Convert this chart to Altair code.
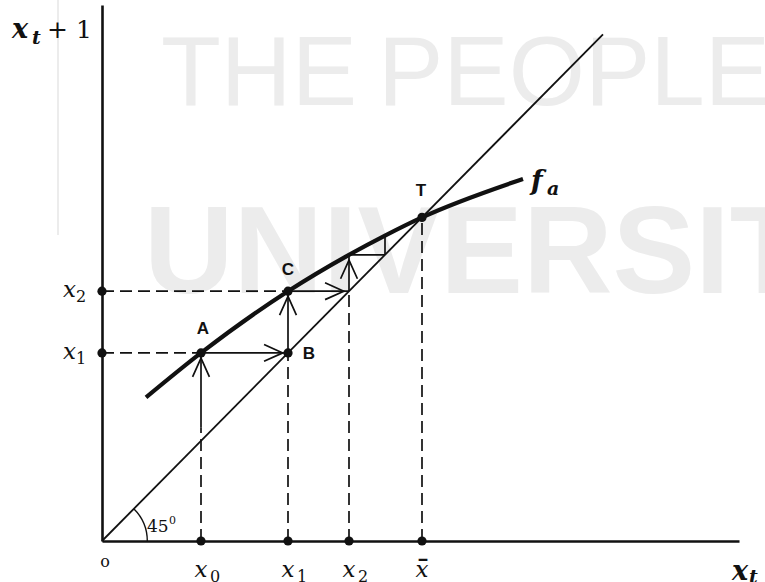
import altair as alt
import pandas as pd

# Successive values of the iteration x_{t+1} = f_a(x_t)
x0, x1, x2, x3, x4, xbar = 99, 186, 247, 283, 302, 320
rise_start = 112          # foot of the first solid arrow above x0
diag_end = 501            # upper end of the 45-degree line

# The concave map f_a
curve_x = [44, 99, 186, 247, 283, 320, 421]
curve_y = [142, 186, 247, 283, 302, 320, 358]

X_MAX, Y_MAX = 637, 530

xs = alt.Scale(domain=[0, X_MAX], nice=False, zero=False)
ys = alt.Scale(domain=[0, Y_MAX], nice=False, zero=False)


def X(f="x"):
    return alt.X(f"{f}:Q", scale=xs, title=None)


def Y(f="y"):
    return alt.Y(f"{f}:Q", scale=ys, title=None)


INK = "#111111"
SERIF = "DejaVu Serif"
SANS = "Liberation Sans"
WM_FONT = "Liberation Sans"
WM_COLOR = "#ececec"

# ---- watermark -----------------------------------------------------------
wm_light = pd.DataFrame({"t": ["THE", "PEOPLE"], "px": [59, 276], "py": [100, 100]})
wm_bold = pd.DataFrame({"t": ["UNIVERSIT"], "px": [42], "py": [288]})
wm_bar = pd.DataFrame({"px": [-44], "py": [-5], "py2": [230]})
watermark = alt.layer(
    alt.Chart(wm_bar).mark_rule(color=WM_COLOR, strokeWidth=2).encode(
        x=alt.X("px:Q", scale=None), y=alt.Y("py:Q", scale=None), y2="py2:Q"
    ),
    alt.Chart(wm_light).mark_text(
        font=WM_FONT, fontSize=98, color=WM_COLOR, align="left", baseline="alphabetic",
    ).encode(x=alt.X("px:Q", scale=None), y=alt.Y("py:Q", scale=None), text="t:N"),
    alt.Chart(wm_bold).mark_text(
        font=WM_FONT, fontSize=124, fontWeight="bold", color=WM_COLOR, align="left", baseline="alphabetic",
    ).encode(x=alt.X("px:Q", scale=None), y=alt.Y("py:Q", scale=None), text="t:N"),
)

# ---- lines ---------------------------------------------------------------
diag = pd.DataFrame({"x": [0, diag_end], "y": [0, diag_end]})
curve = pd.DataFrame({"x": curve_x, "y": curve_y})

guides = pd.DataFrame(
    [
        (0, x1, x0, x1),
        (0, x2, x1, x2),
        (x0, 0, x0, rise_start),
        (x1, 0, x1, x1),
        (x2, 0, x2, x2),
        (xbar, 0, xbar, xbar),
    ],
    columns=["x", "y", "x2", "y2"],
)

arrows = pd.DataFrame(
    [
        (x0, rise_start, x0, x1, 0),
        (x0, x1, x1, x1, 90),
        (x1, x1, x1, x2, 0),
        (x1, x2, x2, x2, 90),
        (x2, x2, x2, x3, 0),
    ],
    columns=["x", "y", "x2", "y2", "angle"],
)

steps = pd.DataFrame(
    [(x2, x3, x3, x3), (x3, x3, x3, x4)],
    columns=["x", "y", "x2", "y2"],
)

dots = pd.DataFrame(
    {
        "x": [x0, x1, x2, xbar, 0, 0, x0, x1, x1, xbar],
        "y": [0, 0, 0, 0, x1, x2, x1, x1, x2, xbar],
    }
)

base = alt.Chart(diag).mark_line(color=INK, strokeWidth=1.8).encode(x=X(), y=Y())

fa_line = alt.Chart(curve).mark_line(
    color=INK, strokeWidth=4.2, interpolate="monotone", strokeCap="butt"
).encode(x=X(), y=Y())

guide_lines = alt.Chart(guides).mark_rule(
    color=INK, strokeWidth=1.7, strokeDash=[12, 6]
).encode(x=X(), y=Y(), x2="x2:Q", y2="y2:Q")

arrow_lines = alt.Chart(arrows).mark_rule(color=INK, strokeWidth=1.7).encode(
    x=X(), y=Y(), x2="x2:Q", y2="y2:Q"
)

step_lines = alt.Chart(steps).mark_rule(color=INK, strokeWidth=1.7).encode(
    x=X(), y=Y(), x2="x2:Q", y2="y2:Q"
)

# open "V" heads, tip pointing up before rotation
heads = alt.Chart(arrows).mark_point(
    shape="M -0.45 1.28 L 0 0.28 L 0.45 1.28",
    filled=False, stroke=INK, strokeWidth=1.7, size=1400, opacity=1,
).encode(x=X("x2"), y=Y("y2"), angle=alt.Angle("angle:Q", scale=None))

dot_layer = alt.Chart(dots).mark_circle(color=INK, size=85, opacity=1).encode(x=X(), y=Y())

# 45 degree angle marker at the origin
origin = pd.DataFrame({"x": [0], "y": [0]})
arc = alt.Chart(origin).mark_arc(
    radius=46, radius2=44.6, theta=0.7854, theta2=1.5708, color=INK
).encode(x=X(), y=Y())


def txt(df, **kw):
    style = dict(color=INK, baseline="alphabetic")
    style.update(kw)
    return alt.Chart(df).mark_text(**style).encode(x=X(), y=Y(), text="t:N")


# ---- labels --------------------------------------------------------------
xlab = pd.DataFrame({"x": [x0, x1, x2, xbar], "y": [0] * 4, "t": ["x", "x", "x", "x"]})
xsub = pd.DataFrame({"x": [x0, x1, x2], "y": [0] * 3, "t": ["0", "1", "2"]})
xbar_bar = pd.DataFrame({"x": [xbar], "y": [0], "t": ["\u00af"]})
ylab = pd.DataFrame({"x": [0, 0], "y": [x1, x2], "t": ["x", "x"]})
ysub = pd.DataFrame({"x": [0, 0], "y": [x1, x2], "t": ["1", "2"]})

pA = pd.DataFrame({"x": [x0], "y": [x1], "t": ["A"]})
pB = pd.DataFrame({"x": [x1], "y": [x1], "t": ["B"]})
pC = pd.DataFrame({"x": [x1], "y": [x2], "t": ["C"]})
pT = pd.DataFrame({"x": [xbar], "y": [xbar], "t": ["T"]})

fend = pd.DataFrame({"x": [curve_x[-1]], "y": [curve_y[-1]], "t": ["f"]})
fsub = pd.DataFrame({"x": [curve_x[-1]], "y": [curve_y[-1]], "t": ["a"]})

o_lab = pd.DataFrame({"x": [0], "y": [0], "t": ["o"]})
deg = pd.DataFrame({"x": [0], "y": [0], "t": ["45"]})
deg_sup = pd.DataFrame({"x": [0], "y": [0], "t": ["0"]})

ytop = pd.DataFrame({"x": [0], "y": [Y_MAX], "t": ["x"]})
ytop_t = pd.DataFrame({"x": [0], "y": [Y_MAX], "t": ["t"]})
ytop_rest = pd.DataFrame({"x": [0], "y": [Y_MAX], "t": ["+ 1"]})

xend = pd.DataFrame({"x": [X_MAX], "y": [0], "t": ["x"]})
xend_t = pd.DataFrame({"x": [X_MAX], "y": [0], "t": ["t"]})

labels = [
    txt(xlab, font=SERIF, fontStyle="italic", fontSize=23, align="center", dy=36),
    txt(xbar_bar, font=SERIF, fontSize=30, align="center", dx=1, dy=40),
    txt(xsub, font=SERIF, fontSize=16, align="left", dx=9, dy=41),
    txt(ylab, font=SERIF, fontStyle="italic", fontSize=23, align="right", dx=-26, dy=6),
    txt(ysub, font=SERIF, fontSize=16, align="left", dx=-26, dy=11),
    txt(pA, font=SANS, fontWeight="bold", fontSize=17, align="center", baseline="middle", dx=2, dy=-24),
    txt(pB, font=SANS, fontWeight="bold", fontSize=17, align="center", baseline="middle", dx=21, dy=1),
    txt(pC, font=SANS, fontWeight="bold", fontSize=17, align="center", baseline="middle", dx=0, dy=-21),
    txt(pT, font=SANS, fontWeight="bold", fontSize=17, align="center", baseline="middle", dx=-1, dy=-26),
    txt(fend, font=SERIF, fontStyle="italic", fontWeight="bold", fontSize=27, align="left", dx=8, dy=11),
    txt(fsub, font=SERIF, fontStyle="italic", fontWeight="bold", fontSize=19, align="left", dx=24, dy=16),
    txt(o_lab, font=SERIF, fontSize=16, align="center", baseline="middle", dx=3, dy=21),
    txt(deg, font=SERIF, fontSize=17, align="left", dx=45, dy=-9),
    txt(deg_sup, font=SERIF, fontSize=11, align="left", dx=67, dy=-17),
    txt(ytop, font=SERIF, fontStyle="italic", fontWeight="bold", fontSize=27, align="left", dx=-90, dy=33),
    txt(ytop_t, font=SERIF, fontStyle="italic", fontWeight="bold", fontSize=19, align="left", dx=-70, dy=39),
    txt(ytop_rest, font=SERIF, fontSize=25, align="left", dx=-55, dy=33),
    txt(xend, font=SERIF, fontStyle="italic", fontWeight="bold", fontSize=27, align="left", dx=-7, dy=39),
    txt(xend_t, font=SERIF, fontStyle="italic", fontWeight="bold", fontSize=19, align="left", dx=10, dy=42),
]

chart = (
    alt.layer(
        watermark,
        base,
        guide_lines,
        arrow_lines,
        step_lines,
        heads,
        arc,
        fa_line,
        dot_layer,
        *labels,
    )
    .properties(
        width=637,
        height=536,
        autosize=alt.AutoSizeParams(type="none"),
        padding={"left": 102, "top": 5, "right": 26, "bottom": 41},
        background="white",
    )
    .configure_axis(
        grid=False, ticks=False, labels=False, domainColor=INK, domainWidth=2.6
    )
    .configure_view(stroke=None)
)

chart.save("out.html", embed_options={"renderer": "svg", "actions": False})
